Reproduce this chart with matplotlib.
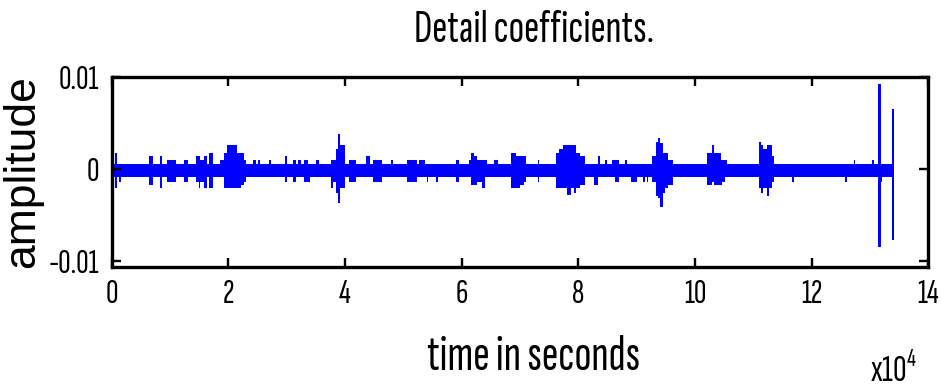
import matplotlib
matplotlib.use("Agg")
import matplotlib.pyplot as plt
import numpy as np

# ---------------- data (time in units of 1e4 samples, amplitude in units of 1e-3) -------------
AMP_UNIT = 1e-3
signal_end = 13.40            # end of the coefficient record (x 1e4)
baseline_upper = 0.52         # dense noise band envelope
baseline_lower = -0.93

# burst envelopes: start, end, upper, lower
burst_start = [0.057, 0.13, 0.64, 0.83, 0.94, 1.24, 1.45, 1.49, 1.51, 1.58, 1.67, 1.86,
               1.93, 1.98, 2.15, 2.22, 2.26, 2.43, 2.51, 2.70, 2.97, 3.10, 3.19, 3.30, 3.37, 3.50,
               3.76, 3.79, 3.84, 3.88, 3.91, 4.07, 4.36, 4.48, 4.78,
               5.06, 5.27, 5.40, 5.56, 5.90, 6.13, 6.16, 6.21, 6.27, 6.35, 6.40, 6.56,
               6.85, 6.93, 7.00, 7.06, 7.30,
               7.62, 7.66, 7.73, 7.81, 7.87, 7.93, 7.96, 8.03,
               8.27, 8.34, 8.46, 8.57, 8.63, 8.80, 8.91, 9.11, 9.17,
               9.26, 9.33, 9.37, 9.40, 9.45, 9.49, 9.53,
               10.21, 10.29, 10.32, 10.40, 10.44, 10.47, 10.51,
               11.09, 11.13, 11.17, 11.23, 11.27, 11.32,
               11.66, 12.57, 12.73, 13.03, 13.19]
burst_end = [0.096, 0.16, 0.70, 0.86, 1.10, 1.31, 1.51, 1.51, 1.58, 1.63, 1.73, 1.93,
             1.98, 2.15, 2.22, 2.26, 2.31, 2.47, 2.54, 2.73, 3.00, 3.16, 3.24, 3.36, 3.40, 3.55,
             3.79, 3.84, 3.88, 3.91, 4.00, 4.19, 4.43, 4.63, 4.83,
             5.24, 5.37, 5.43, 5.59, 5.95, 6.16, 6.21, 6.27, 6.35, 6.40, 6.43, 6.63,
             6.93, 7.00, 7.06, 7.11, 7.33,
             7.66, 7.73, 7.81, 7.87, 7.93, 7.96, 8.03, 8.11,
             8.34, 8.37, 8.49, 8.63, 8.70, 8.83, 9.01, 9.14, 9.20,
             9.33, 9.37, 9.40, 9.45, 9.49, 9.53, 9.63,
             10.29, 10.32, 10.40, 10.44, 10.47, 10.51, 10.54,
             11.13, 11.17, 11.23, 11.27, 11.32, 11.36,
             11.69, 12.60, 12.75, 13.06, 13.21]
burst_upper = [1.69, 0.52, 1.39, 1.39, 0.96, 0.96, 1.39, 1.39, 0.96, 1.39, 1.69, 0.96,
               1.69, 2.59, 1.69, 1.69, 0.96, 0.96, 0.96, 0.96, 1.39, 0.96, 0.96, 0.96, 0.52, 0.96,
               0.96, 0.96, 2.12, 3.79, 2.59, 0.96, 1.39, 0.96, 0.96,
               0.96, 0.96, 0.52, 0.52, 0.96, 0.96, 1.69, 1.39, 0.96, 0.96, 0.96, 0.96,
               1.69, 1.39, 1.39, 1.39, 0.96,
               1.69, 2.12, 2.59, 2.59, 2.59, 2.59, 1.69, 1.39,
               0.52, 1.39, 0.96, 0.96, 0.96, 0.96, 0.52, 0.52, 0.52,
               1.39, 2.95, 3.32, 2.84, 1.69, 1.69, 0.96,
               1.69, 2.59, 1.69, 1.69, 0.96, 0.96, 0.96,
               2.95, 2.59, 2.12, 2.59, 2.59, 1.39,
               0.52, 0.52, 0.96, 0.96, 0.52]
burst_lower = [-2.12, -1.41, -1.76, -2.12, -1.41, -1.41, -1.41, -2.12, -1.41, -2.12, -2.12, -0.93,
               -2.12, -2.12, -2.12, -1.76, -1.41, -0.93, -0.93, -0.93, -1.41, -1.41, -0.93, -1.41, -1.41, -0.93,
               -2.12, -1.41, -2.60, -3.69, -2.12, -1.41, -0.93, -1.41, -0.93,
               -1.41, -0.93, -1.41, -1.41, -1.41, -0.93, -1.76, -1.76, -1.41, -2.12, -0.93, -0.93,
               -2.12, -2.12, -1.76, -1.41, -1.41,
               -2.12, -2.12, -2.12, -2.85, -2.12, -2.60, -2.12, -1.76,
               -1.76, -0.93, -0.93, -0.93, -1.41, -0.93, -1.41, -1.41, -1.41,
               -1.41, -2.96, -3.20, -4.13, -2.60, -2.12, -1.76,
               -1.76, -1.41, -1.76, -1.76, -1.76, -1.41, -0.93,
               -2.12, -2.60, -2.12, -2.96, -2.12, -1.41,
               -1.41, -1.41, -0.93, -0.93, -1.41]

# two isolated large coefficients near the end
spike_start = [13.14, 13.38]
spike_end = [13.18, 13.41]
spike_upper = [9.24, 6.48]
spike_lower = [-8.49, -7.76]

x_ticks = [0, 2, 4, 6, 8, 10, 12, 14]
x_tick_labels = ["0", "2", "4", "6", "8", "10", "12", "14"]
y_ticks = [-0.01, 0, 0.01]
y_tick_labels = ["-0.01", "0", "0.01"]
x_scale_label = r"x10$^{\mathregular{4}}$"

# ---------------- drawing -------------
BLUE = (0, 0, 1)
FONT = ["Sofia Sans Extra Condensed", "Saira ExtraCondensed", "DejaVu Sans"]

plt.rcParams["font.family"] = FONT
plt.rcParams["mathtext.fontset"] = "custom"
plt.rcParams["mathtext.rm"] = FONT[0]

fig = plt.figure(figsize=(9.42, 3.88), dpi=100)
ax = fig.add_axes([0.1186, 0.3119, 0.8669, 0.4897])

# baseline band
ax.fill_between([0, signal_end],
                [baseline_lower * AMP_UNIT] * 2, [baseline_upper * AMP_UNIT] * 2,
                color=BLUE, linewidth=0)

bs = np.array(burst_start)
be = np.array(burst_end)
bu = np.array(burst_upper) * AMP_UNIT
bl = np.array(burst_lower) * AMP_UNIT
ax.bar(bs, bu - bl, width=be - bs, bottom=bl, align="edge", color=BLUE, linewidth=0)

ss = np.array(spike_start)
se = np.array(spike_end)
su = np.array(spike_upper) * AMP_UNIT
sl = np.array(spike_lower) * AMP_UNIT
ax.bar(ss, su - sl, width=se - ss, bottom=sl, align="edge", color=BLUE, linewidth=0)

ax.set_xlim(0, 14)
ax.set_ylim(-0.0107, 0.01)
ax.set_xticks(x_ticks)
ax.set_xticklabels(x_tick_labels)
ax.set_yticks(y_ticks)
ax.set_yticklabels(y_tick_labels)

for s in ax.spines.values():
    s.set_linewidth(2.4)
ax.tick_params(direction="in", length=6.5, width=1.7, top=True, right=True,
               labelsize=25, pad=9)

ax.set_title("Detail coefficients.", fontsize=33, x=0.517, y=1.184, va="baseline", pad=0)
ax.set_xlabel("time in seconds", fontsize=36, va="baseline")
ax.xaxis.set_label_coords(0.517, -0.542)
ax.set_ylabel("amplitude", fontsize=32, family=["Liberation Sans", "DejaVu Sans"],
              va="center", ha="center")
ax.yaxis.set_label_coords(-0.1086, 0.503)

ax.text(0.9286, -0.605, x_scale_label, transform=ax.transAxes, fontsize=27,
        va="baseline", ha="left")

fig.savefig("out.png", dpi=100)
